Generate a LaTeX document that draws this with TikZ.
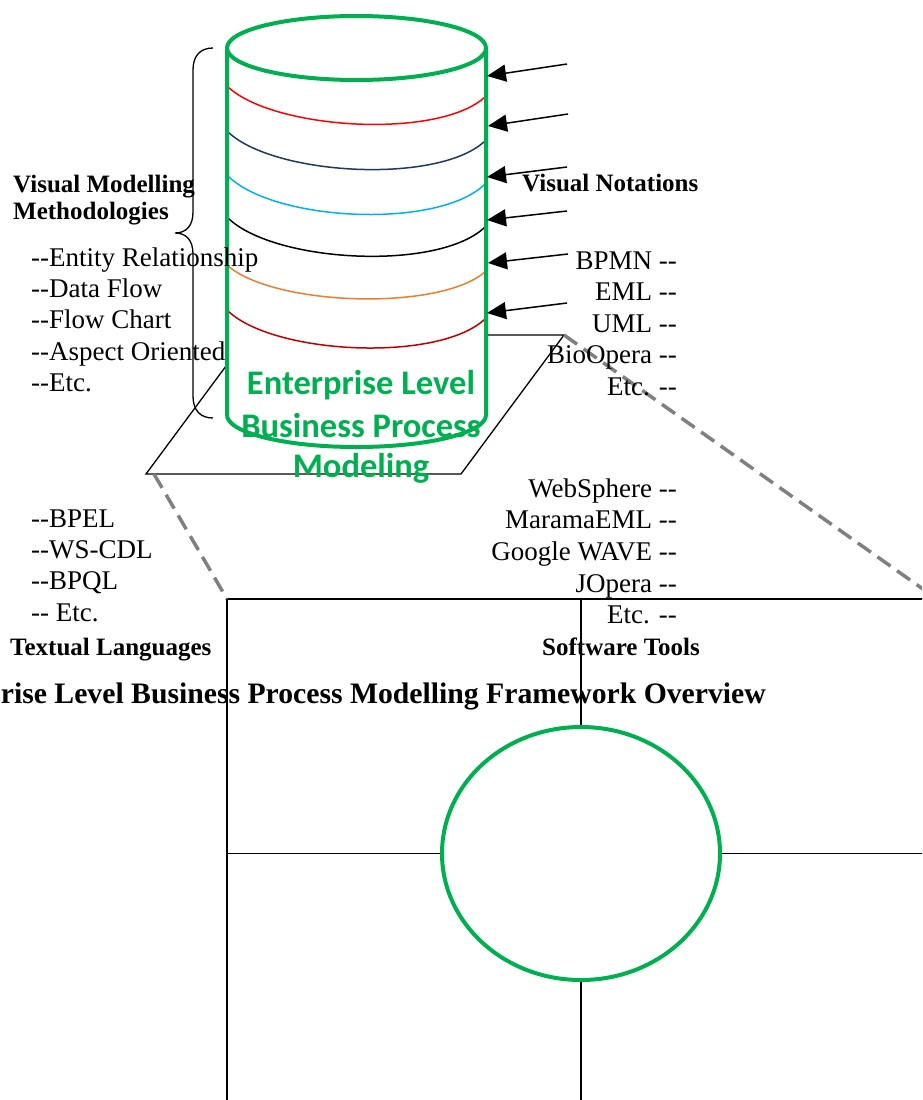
\documentclass[tikz,border=0pt]{standalone}
\usepackage{fontspec}
\setmainfont{Liberation Serif}
\newfontfamily\calfont{Carlito}
\usetikzlibrary{arrows.meta,shapes.geometric}
\definecolor{cylgreen}{HTML}{00B050}
\definecolor{bandnavy}{HTML}{1F3864}
\definecolor{bandsky}{HTML}{00B0F0}
\definecolor{bandorange}{HTML}{ED7D31}
\definecolor{banddark}{HTML}{C00000}
\definecolor{callout}{HTML}{808080}
% two separate hyphens, never joined into a dash
\newcommand{\dd}{-{}-}
\tikzset{
  cyl/.style={draw=cylgreen, line width=4pt, line join=round},
  band/.style={line width=1.5pt},
  thin/.style={draw=black, line width=1.3pt},
  gridline/.style={draw=black, line width=1.4pt},
  dashlink/.style={draw=callout, line width=3.5pt, dash pattern=on 16pt off 8pt},
  feed/.style={draw=black, line width=1.5pt, -{Triangle[length=19pt,width=17pt]}},
  plain/.style={inner sep=0pt, font=\fontsize{27}{30}\selectfont},
  heading/.style={inner sep=0pt, font=\fontsize{25}{28}\selectfont\bfseries},
  greentext/.style={inner sep=0pt, text=cylgreen, font=\calfont\fontsize{34.5}{40}\selectfont\bfseries},
}
\begin{document}
\begin{tikzpicture}[x=1pt,y=-1pt]
\useasboundingbox (0,0) rectangle (922,1100);
\clip (0,0) rectangle (922,1100);

% base plane under the cylinder
\coordinate (pBL) at (146,474);
\coordinate (pBR) at (461,474);
\coordinate (pTR) at (564,335);
\coordinate (pTL) at (249,335);
\draw[thin] (pBL) -- (pBR) -- (pTR) -- (pTL) -- cycle;

% framework grid with the central hub
\coordinate (gTL) at (227,599);
\coordinate (gTR) at (937,599);
\coordinate (gBL) at (227,1110);
\coordinate (gTM) at (581,599);
\coordinate (gBM) at (581,1110);
\coordinate (gML) at (227,853.5);
\coordinate (gMR) at (937,853.5);
\node[ellipse, draw=cylgreen, line width=4pt, minimum width=278pt, minimum height=253pt, inner sep=0pt] (hub) at (581,853.5) {};
\draw[gridline] (gBL) -- (gTL) -- (gTR);
\draw[gridline] (gTM) -- (hub.north);
\draw[gridline] (hub.south) -- (gBM);
\draw[gridline] (gML) -- (hub.west);
\draw[gridline] (hub.east) -- (gMR);

% dashed callout lines from the plane to the grid
\coordinate (dStart) at (154,474);
\draw[dashlink] (dStart) -- (gTL);
\draw[dashlink] (pTR) -- (gTR);

% cylinder body
\coordinate (cTL) at (227,48);
\coordinate (cTR) at (486,48);
\coordinate (cBL) at (227,415);
\coordinate (cBR) at (486,415);
\fill[white] (cTL) -- (cBL) .. controls (227,432.7) and (285,447) .. (356.5,447)
  .. controls (428,447) and (486,432.7) .. (cBR) -- (cTR)
  .. controls (486,30.3) and (428,16) .. (356.5,16)
  .. controls (285,16) and (227,30.3) .. (cTL) -- cycle;

% coloured layers
\draw[band, red] (227,86) .. controls (272,130) and (441,140) .. (486,96);
\draw[band, bandnavy] (227,131) .. controls (272,176) and (441,185) .. (486,140);
\draw[band, bandsky] (227,175) .. controls (272,222) and (441,230) .. (486,183);
\draw[band, black] (227,217) .. controls (272,263) and (441,272) .. (486,226);
\draw[band, bandorange] (227,265) .. controls (272,306) and (441,312) .. (486,271);
\draw[band, banddark] (227,310) .. controls (272,355) and (441,363) .. (486,318);

% cylinder outline
\draw[cyl] (cTL) -- (cBL) .. controls (227,432.7) and (285,447) .. (356.5,447)
  .. controls (428,447) and (486,432.7) .. (cBR) -- (cTR);
\draw[cyl] (356.5,48) ellipse [x radius=129.5, y radius=32];

% incoming arrows
\coordinate (t1) at (567,64);  \coordinate (h1) at (487,76);
\coordinate (t2) at (568,114); \coordinate (h2) at (488,126);
\coordinate (t3) at (567,167); \coordinate (h3) at (487,177);
\coordinate (t4) at (567,211); \coordinate (h4) at (487,220);
\coordinate (t5) at (568,254); \coordinate (h5) at (488,263);
\coordinate (t6) at (567,303); \coordinate (h6) at (487,313);
\foreach \i in {1,...,6} \draw[feed] (t\i) -- (h\i);

% left brace
\draw[thin] (213,48) .. controls (200,48) and (193,56) .. (193,70) -- (193,212)
  .. controls (193,226) and (186,233) .. (175,233)
  .. controls (186,233) and (193,240) .. (193,254) -- (193,396)
  .. controls (193,410) and (200,418) .. (213,418);

% visual modelling methodologies
\node[heading, anchor=base west] (vmm1) at (13,192) {Visual Modelling};
\node[heading, anchor=base west] (vmm2) at (13,219) {Methodologies};
\node[plain, anchor=base west] (m1) at (31,266) {\dd Entity Relationship};
\node[plain, anchor=base west] (m2) at (31,297) {\dd Data Flow};
\node[plain, anchor=base west] (m3) at (31,328) {\dd Flow Chart};
\node[plain, anchor=base west] (m4) at (31,360) {\dd Aspect Oriented};
\node[plain, anchor=base west] (m5) at (31,391) {\dd Etc.};

% visual notations
\node[heading, anchor=base west] (vn) at (522,191) {Visual Notations};
\node[plain, anchor=base east] (n1) at (677,269) {BPMN \dd};
\node[plain, anchor=base east] (n2) at (677,300) {EML \dd};
\node[plain, anchor=base east] (n3) at (677,332) {UML \dd};
\node[plain, anchor=base east] (n4) at (677,363) {BioOpera \dd};
\node[plain, anchor=base east] (n5) at (677,395) {Etc. \dd};

% software tools
\node[plain, anchor=base east] (s1) at (677,497) {WebSphere \dd};
\node[plain, anchor=base east] (s2) at (677,528) {MaramaEML \dd};
\node[plain, anchor=base east] (s3) at (677,560) {Google WAVE \dd};
\node[plain, anchor=base east] (s4) at (677,592) {JOpera \dd};
\node[plain, anchor=base east] (s5) at (677,623) {Etc. \dd};
\node[heading, anchor=base west] (st) at (542,655) {Software Tools};

% textual languages
\node[plain, anchor=base west] (l1) at (31,527) {\dd BPEL};
\node[plain, anchor=base west] (l2) at (31,558) {\dd WS-CDL};
\node[plain, anchor=base west] (l3) at (31,589) {\dd BPQL};
\node[plain, anchor=base west] (l4) at (31,621) {\dd{} Etc.};
\node[heading, anchor=base west] (tl) at (10,655) {Textual Languages};

% caption
\node[inner sep=0pt, anchor=base east, font=\fontsize{29.7}{34}\selectfont\bfseries] (cap) at (766,703) {rise Level Business Process Modelling Framework Overview};

% cylinder label
\node[greentext, anchor=base] (g1) at (361,394) {Enterprise Level};
\node[greentext, anchor=base] (g2) at (361,437) {Business Process};
\node[greentext, anchor=base] (g3) at (361,477) {Modeling};
\end{tikzpicture}
\end{document}
